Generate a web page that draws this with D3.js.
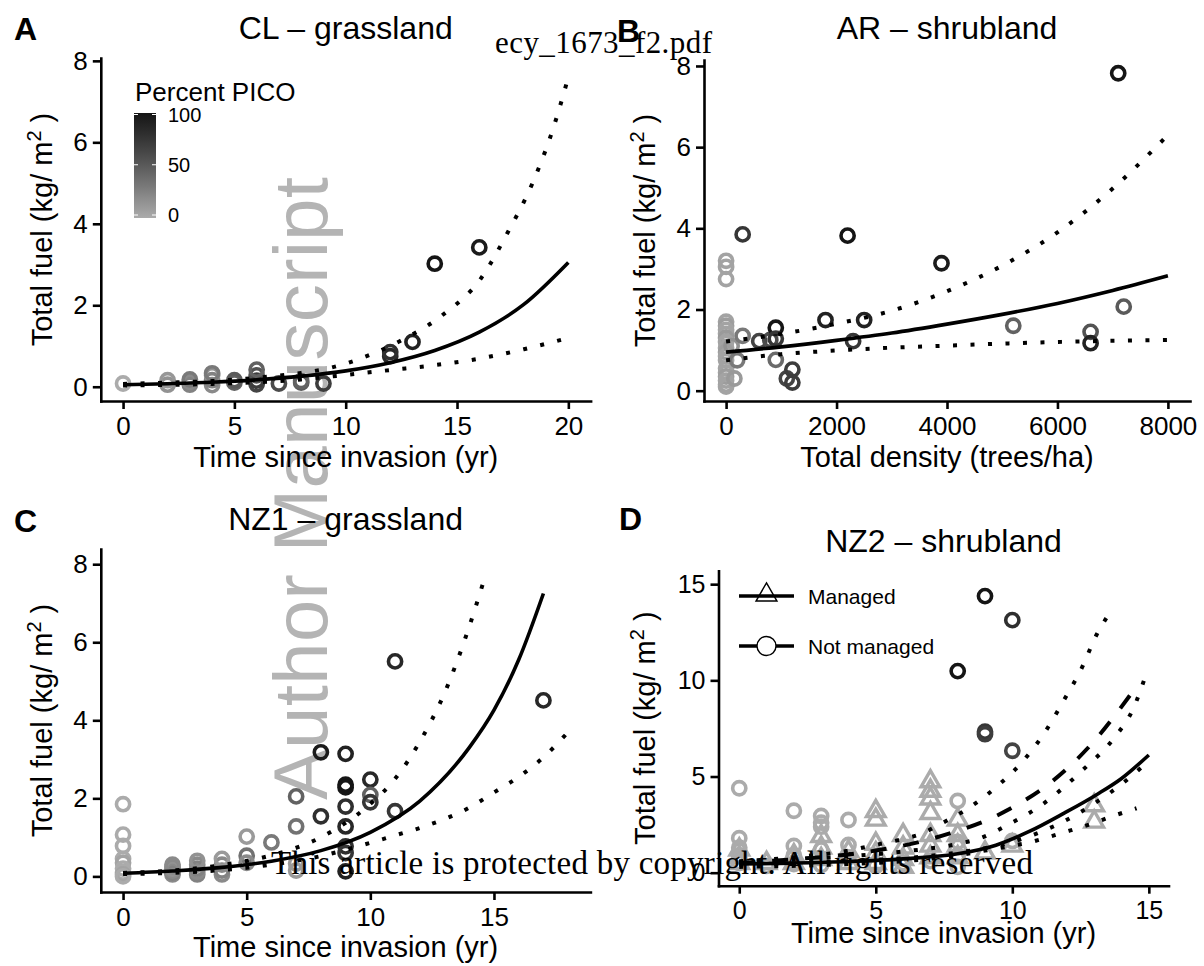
<!DOCTYPE html>
<html>
<head>
<meta charset="utf-8">
<script src="https://cdn.jsdelivr.net/npm/d3@7"></script>
<style>
  body { margin: 0; background: #fff; }
  text { font-family: "Liberation Sans", Arial, sans-serif; }
</style>
</head>
<body>
<div id="chart"></div>
<script>
// ---------- A: CL grassland (time since invasion vs total fuel, % PICO)
const aTime = [0, 2, 2, 3, 3, 3, 4, 4, 4, 4, 5, 5, 6, 6, 6, 6, 7, 8, 8, 9, 12, 12, 13, 14, 16]
const aFuel = [0.08, 0.05, 0.16, 0.05, 0.12, 0.18, 0.04, 0.16, 0.28, 0.33, 0.1, 0.16, 0.06, 0.15, 0.28, 0.42, 0.08, 0.1, 0.14, 0.08, 0.75, 0.85, 1.1, 3.02, 3.42]
const aPico = [0, 15, 12, 25, 20, 30, 20, 25, 15, 30, 45, 50, 65, 70, 55, 45, 60, 50, 45, 70, 85, 80, 90, 100, 95]
const aMeanX = [0, 2, 4, 6, 8, 10, 12, 14, 16, 18, 20]
const aMean = [0.05, 0.075, 0.11, 0.17, 0.26, 0.39, 0.59, 0.89, 1.34, 2.02, 3.05]
const aUpperX = [0, 2, 4, 6, 8, 9.2, 10.7, 12.4, 14.3, 16.1, 17.3, 18.4, 19.3, 20]
const aUpper = [0.07, 0.1, 0.14, 0.22, 0.34, 0.45, 0.7, 1.11, 1.74, 2.68, 3.81, 5.01, 6.31, 7.6]
const aLowerX = [0, 4, 8, 10, 12, 14, 16, 18, 20]
const aLower = [0.03, 0.07, 0.18, 0.29, 0.41, 0.53, 0.69, 0.92, 1.2]

// ---------- B: AR shrubland (tree density vs total fuel)
const bDensity = [0, 0, 0, 0, 0, 0, 0, 0, 0, 0, 0, 0, 0, 0, 0, 0, 0, 0, 0,
  100, 150, 200, 300, 300, 600, 800, 900, 900, 900, 1100, 1200, 1200,
  1800, 2200, 2300, 2500, 3900, 5200, 6600, 6600, 7100, 7200]
const bFuel = [3.2, 3.05, 2.75, 1.7, 1.6, 1.5, 1.4, 1.3, 1.2, 1.05, 0.95, 0.85, 0.75, 0.55, 0.45, 0.35, 0.25, 0.15, 0.1,
  1.1, 0.3, 0.75, 1.35, 3.85, 1.22, 1.25, 1.55, 1.28, 0.76, 0.3, 0.52, 0.2,
  1.74, 3.82, 1.22, 1.74, 3.14, 1.6, 1.45, 1.17, 7.82, 2.07]
const bPico = [5, 5, 5, 5, 8, 5, 5, 10, 5, 5, 8, 5, 5, 5, 5, 8, 5, 5, 5,
  15, 10, 30, 30, 75, 65, 60, 100, 75, 40, 65, 70, 70,
  90, 100, 75, 90, 95, 45, 55, 90, 100, 50]
const bCurveX = [0, 1000, 2000, 3000, 4000, 5000, 6000, 7000, 8000]
const bMean = [0.95, 1.08, 1.24, 1.42, 1.64, 1.88, 2.15, 2.47, 2.83]
const bUpper = [1.21, 1.4, 1.65, 1.97, 2.45, 3.08, 3.9, 4.98, 6.3]
const bLower = [0.75, 0.9, 0.99, 1.06, 1.11, 1.16, 1.2, 1.23, 1.25]

// ---------- C: NZ1 grassland
const cTime = [0, 0, 0, 0, 0, 0, 0, 0, 0, 2, 2, 2, 2, 2, 2, 3, 3, 3, 3, 3, 4, 4, 4, 4,
  5, 5, 5, 6, 7, 7, 7, 7, 8, 8, 9, 9, 9, 9, 9, 9, 9, 9, 10, 10, 10, 11, 11, 17]
const cFuel = [1.85, 1.07, 0.78, 0.45, 0.35, 0.2, 0.1, 0.05, 0, 0.05, 0.1, 0.15, 0.2, 0.25, 0.3,
  0.05, 0.12, 0.2, 0.3, 0.4, 0.05, 0.15, 0.3, 0.45, 1.02, 0.53, 0.35, 0.87,
  2.05, 1.28, 0.33, 0.15, 3.18, 1.54, 3.14, 2.35, 2.28, 1.79, 1.28, 0.77, 0.6, 0.13,
  2.48, 2.09, 1.9, 5.51, 1.67, 4.51]
const cPico = [0, 0, 0, 0, 5, 0, 0, 5, 0, 20, 25, 20, 15, 20, 20, 25, 20, 25, 20, 15, 20, 25, 20, 10,
  10, 35, 20, 30, 45, 35, 10, 10, 95, 80, 90, 100, 100, 80, 85, 80, 75, 90,
  85, 45, 75, 85, 75, 85]
const cMeanX = [0, 2, 4, 6, 8, 10, 12, 14, 15, 16, 17]
const cMean = [0.08, 0.14, 0.23, 0.39, 0.66, 1.13, 1.93, 3.3, 4.26, 5.55, 7.25]
const cUpperX = [0, 2, 4, 6, 8, 10, 11, 12, 13, 14, 14.6]
const cUpper = [0.09, 0.15, 0.29, 0.54, 1.0, 1.86, 2.5, 3.45, 4.7, 6.4, 7.6]
const cLowerX = [0, 3, 5, 7, 8, 9, 10, 11, 12, 13, 14, 15, 16, 17, 17.9]
const cLower = [0.06, 0.12, 0.22, 0.4, 0.52, 0.68, 0.86, 1.05, 1.24, 1.47, 1.76, 2.15, 2.55, 3.05, 3.63]

// ---------- D: NZ2 shrubland, not managed (circles) and managed (triangles)
const dOpenTime = [0, 0, 0, 0, 0, 1, 2, 2, 2, 2, 3, 3, 3, 3, 3, 4, 4, 4, 5, 6, 7, 8, 8, 8, 8, 8, 9, 9, 9, 10, 10, 10]
const dOpenFuel = [4.39, 1.79, 1.3, 0.9, 0.5, 0.35, 3.22, 1.39, 0.9, 0.45, 2.95, 2.6, 2.39, 1.2, 0.4,
  2.74, 1.44, 0.8, 0.35, 0.5, 0.6, 3.73, 1.6, 0.9, 0.3, 10.48, 14.38, 7.33, 7.2, 13.13, 6.34, 1.65]
const dOpenPico = [0, 0, 0, 0, 0, 0, 0, 0, 0, 0, 0, 0, 0, 0, 0, 0, 0, 0, 0, 0, 0, 0, 0, 0, 0, 100, 100, 75, 70, 80, 65, 0]
const dManTime = [0, 0, 0, 1, 2, 2, 3, 3, 3, 4, 4, 5, 5, 5, 5, 5, 6, 6, 6, 6, 7, 7, 7, 7, 7, 7, 7, 8, 8, 8, 8, 9, 10, 13, 13]
const dManFuel = [1.2, 0.8, 0.5, 0.5, 0.9, 0.5, 1.9, 1.3, 0.7, 1.1, 0.5, 3.2, 2.75, 1.5, 1.0, 0.5,
  1.95, 1.3, 0.7, 0.3, 4.75, 4.25, 3.85, 3.1, 1.95, 1.4, 0.8, 2.75, 1.95, 1.4, 0.8, 1.04, 1.4, 3.5, 2.65]
const dManX = [0, 2, 4, 6, 8, 9.4, 10.6, 11.9, 13.1, 14, 15]
const dMan = [0.45, 0.5, 0.58, 0.72, 0.98, 1.43, 2.13, 3.1, 4.07, 4.9, 6.12]
const dOpenX = [0, 2, 4, 5, 6.6, 7.9, 9.1, 10.3, 11.4, 12.85, 14.55]
const dOpen = [0.5, 0.7, 0.95, 1.15, 1.6, 2.13, 2.75, 3.63, 4.68, 6.61, 9.69]
const dCi1X = [0, 2, 4, 5, 6, 6.7, 7.3, 8.4, 9.45, 10.4, 11.2, 11.9, 12.55, 13.1, 13.47]
const dCi1 = [0.6, 0.8, 1.15, 1.45, 1.75, 2.04, 2.48, 3.36, 4.5, 5.82, 7.32, 8.99, 10.66, 12.41, 13.3]
const dCi2X = [0, 4, 6, 8, 8.8, 9.9, 11, 12.55, 13.77, 14.41, 14.97]
const dCi2 = [0.55, 0.85, 1.1, 1.5, 1.78, 2.54, 3.45, 5.3, 7.08, 8.47, 10.62]
const dCi3X = [0, 4, 6, 8, 10, 11, 12, 13, 14, 14.75]
const dCi3 = [0.4, 0.6, 0.75, 1.05, 1.6, 2.1, 2.75, 3.6, 4.6, 5.5]
const dCi4X = [0, 4, 6, 8, 9, 10, 10.7, 11.2, 11.9, 12.7, 13.8, 14.55]
const dCi4 = [0.3, 0.45, 0.6, 0.9, 1.15, 1.4, 1.6, 1.8, 2.1, 2.45, 3.0, 3.35]

const legendTicks = [0, 50, 100]
const legendKeys = ["Managed", "Not managed"]

const W = 1204, H = 966
const svg = d3.select("#chart").append("svg").attr("width", W).attr("height", H)

const grey = d3.scaleLinear().domain([0, 100]).range(["#ababab", "#151515"]).interpolate(d3.interpolateLab)
const zip = (xs, ys) => xs.map((v, i) => [v, ys[i]])

// watermark sits under the plots
svg.append("text")
  .attr("transform", "translate(327,800) rotate(-90)")
  .attr("font-size", 76).attr("fill", "#b4b4b4")
  .attr("textLength", 623).attr("lengthAdjust", "spacing")
  .text("Author Manuscript")

function panel(p) {
  const g = svg.append("g")
  const x = d3.scaleLinear().domain(p.xDom).range([p.left, p.right])
  const y = d3.scaleLinear().domain(p.yDom).range([p.bottom, p.top])

  const xg = g.append("g").attr("transform", `translate(0,${p.bottom})`)
    .call(d3.axisBottom(x).tickValues(p.xTicks).tickFormat(d3.format("d"))
      .tickSize(8).tickPadding(8).tickSizeOuter(0))
  const yg = g.append("g").attr("transform", `translate(${p.left},0)`)
    .call(d3.axisLeft(y).tickValues(p.yTicks).tickFormat(d3.format("d"))
      .tickSize(8).tickPadding(5).tickSizeOuter(0))
  xg.attr("font-family", null).attr("font-size", null)
  yg.attr("font-family", null).attr("font-size", null)
  g.selectAll(".domain").attr("stroke", "#000").attr("stroke-width", 2.6).attr("stroke-linecap", "square")
  g.selectAll(".tick line").attr("stroke", "#000").attr("stroke-width", 2.6)
  g.selectAll(".tick text").attr("fill", "#000").attr("font-size", p.tickFont)

  // title, panel letter, axis titles
  g.append("text").attr("x", (p.left + p.right) / 2).attr("y", p.titleY)
    .attr("text-anchor", "middle").attr("font-size", 32).text(p.title)
  g.append("text").attr("x", p.letterX).attr("y", p.letterY)
    .attr("font-size", 32).attr("font-weight", "bold").text(p.letter)
  g.append("text").attr("x", (p.left + p.right) / 2).attr("y", p.xTitleY)
    .attr("text-anchor", "middle").attr("font-size", 29).text(p.xTitle)
  const yt = g.append("text")
    .attr("transform", `translate(${p.yTitleX},${(p.top + p.bottom) / 2}) rotate(-90)`)
    .attr("text-anchor", "middle").attr("font-size", 29)
  yt.append("tspan").text("Total fuel (kg/ m")
  yt.append("tspan").attr("dy", -11).attr("font-size", 20).text("2")
  yt.append("tspan").attr("dy", 11).text(" )")

  return {g, x, y}
}

function rings(pn, xs, ys, cs) {
  pn.g.append("g").selectAll("circle")
    .data(xs.map((v, i) => ({x: v, y: ys[i], c: cs[i]})))
    .join("circle")
      .attr("cx", d => pn.x(d.x))
      .attr("cy", d => pn.y(d.y))
      .attr("r", 6.6)
      .attr("fill", "none")
      .attr("stroke", d => grey(d.c))
      .attr("stroke-width", 3.6)
}

function curve(pn, xs, ys, dash) {
  const line = d3.line().x(d => pn.x(d[0])).y(d => pn.y(d[1])).curve(d3.curveMonotoneX)
  pn.g.append("path")
    .attr("d", line(zip(xs, ys)))
    .attr("fill", "none")
    .attr("stroke", "#000")
    .attr("stroke-width", dash ? 4 : 3.6)
    .attr("stroke-dasharray", dash)
}

const DOT = "4,13.5"
const DASH = "16,17"

// ---- A
const pA = panel({left: 100.8, right: 590.6, top: 58, bottom: 401, xDom: [-1, 21], yDom: [-0.35, 8.07],
  xTicks: [0, 5, 10, 15, 20], yTicks: [0, 2, 4, 6, 8], tickFont: 26,
  title: "CL \u2013 grassland", titleY: 39, letter: "A", letterX: 14, letterY: 40,
  xTitle: "Time since invasion (yr)", xTitleY: 467, yTitleX: 52})
rings(pA, aTime, aFuel, aPico)
curve(pA, aMeanX, aMean)
curve(pA, aUpperX, aUpper, DOT)
curve(pA, aLowerX, aLower, DOT)

// colour bar legend
const cb = {x: 134, w: 22, top: 113, bottom: 218}
const cbY = d3.scaleLinear().domain([0, 100]).range([215, 114.5])
const grad = svg.append("defs").append("linearGradient").attr("id", "pico")
  .attr("x1", 0).attr("y1", 1).attr("x2", 0).attr("y2", 0)
grad.selectAll("stop").data(d3.range(0, 101, 10)).join("stop")
  .attr("offset", d => d / 100).attr("stop-color", d => grey(d))
svg.append("text").attr("x", 135).attr("y", 100.5).attr("font-size", 26).text("Percent PICO")
svg.append("rect").attr("x", cb.x).attr("y", cb.top).attr("width", cb.w).attr("height", cb.bottom - cb.top)
  .attr("fill", "url(#pico)")
const cbTicks = svg.append("g").selectAll("g").data(legendTicks).join("g")
cbTicks.append("line").attr("x1", cb.x).attr("x2", cb.x + 4).attr("y1", d => cbY(d)).attr("y2", d => cbY(d))
  .attr("stroke", "#fff").attr("stroke-width", 1)
cbTicks.append("line").attr("x1", cb.x + cb.w - 4).attr("x2", cb.x + cb.w).attr("y1", d => cbY(d)).attr("y2", d => cbY(d))
  .attr("stroke", "#fff").attr("stroke-width", 1)
cbTicks.append("text").attr("x", 168).attr("y", d => cbY(d) + 7).attr("font-size", 20).text(d => d)

// ---- B
const pB = panel({left: 704, right: 1190, top: 60, bottom: 401, xDom: [-400, 8400], yDom: [-0.254, 8.147],
  xTicks: [0, 2000, 4000, 6000, 8000], yTicks: [0, 2, 4, 6, 8], tickFont: 26,
  title: "AR \u2013 shrubland", titleY: 39, letter: "B", letterX: 617, letterY: 42,
  xTitle: "Total density (trees/ha)", xTitleY: 467, yTitleX: 655})
rings(pB, bDensity, bFuel, bPico)
curve(pB, bCurveX, bMean)
curve(pB, bCurveX, bUpper, DOT)
curve(pB, bCurveX, bLower, DOT)

// ---- C
const pC = panel({left: 100.8, right: 590.4, top: 549, bottom: 892, xDom: [-0.9, 18.9], yDom: [-0.4, 8.39],
  xTicks: [0, 5, 10, 15], yTicks: [0, 2, 4, 6, 8], tickFont: 26,
  title: "NZ1 \u2013 grassland", titleY: 530, letter: "C", letterX: 14, letterY: 532,
  xTitle: "Time since invasion (yr)", xTitleY: 957, yTitleX: 52})
rings(pC, cTime, cFuel, cPico)
curve(pC, cMeanX, cMean)
curve(pC, cUpperX, cUpper, DOT)
curve(pC, cLowerX, cLower, DOT)

// ---- D
const pD = panel({left: 718.5, right: 1168.5, top: 570.7, bottom: 885.7, xDom: [-0.76, 15.72], yDom: [-0.676, 15.7],
  xTicks: [0, 5, 10, 15], yTicks: [0, 5, 10, 15], tickFont: 25,
  title: "NZ2 \u2013 shrubland", titleY: 552, letter: "D", letterX: 619, letterY: 530,
  xTitle: "Time since invasion (yr)", xTitleY: 943, yTitleX: 655})
rings(pD, dOpenTime, dOpenFuel, dOpenPico)
const tri = d3.symbol(d3.symbolTriangle, 150)
pD.g.append("g").selectAll("path")
  .data(zip(dManTime, dManFuel))
  .join("path")
    .attr("d", tri)
    .attr("transform", d => `translate(${pD.x(d[0])},${pD.y(d[1])})`)
    .attr("fill", "none")
    .attr("stroke", grey(0))
    .attr("stroke-width", 3.4)
curve(pD, dManX, dMan)
curve(pD, dOpenX, dOpen, DASH)
curve(pD, dCi1X, dCi1, DOT)
curve(pD, dCi2X, dCi2, DOT)
curve(pD, dCi3X, dCi3, DOT)
curve(pD, dCi4X, dCi4, DOT)

// managed / not managed key
const key = svg.append("g").selectAll("g").data(legendKeys).join("g")
  .attr("transform", (d, i) => `translate(739,${596 + i * 50})`)
key.append("line").attr("x1", 0).attr("x2", 55).attr("stroke", "#000").attr("stroke-width", 3.6)
key.filter((d, i) => i === 0).append("path")
  .attr("d", d3.symbol(d3.symbolTriangle, 190)).attr("transform", "translate(27.5,-1)")
  .attr("fill", "none").attr("stroke", "#000").attr("stroke-width", 1.4)
key.filter((d, i) => i === 1).append("circle").attr("cx", 27.5).attr("r", 9.5)
  .attr("fill", "#fff").attr("stroke", "#000").attr("stroke-width", 1.4)
key.append("text").attr("x", 69).attr("y", 8).attr("font-size", 21).text(d => d)

// publisher stamps on top
svg.append("text").attr("x", 495).attr("y", 53)
  .style("font-family", "'Liberation Serif', 'Times New Roman', serif")
  .attr("font-size", 31).attr("textLength", 217).text("ecy_1673_f2.pdf")
svg.append("text").attr("x", 271).attr("y", 874)
  .style("font-family", "'Liberation Serif', 'Times New Roman', serif")
  .attr("font-size", 33).attr("textLength", 762).text("This article is protected by copyright. All rights reserved")
</script>
</body>
</html>
